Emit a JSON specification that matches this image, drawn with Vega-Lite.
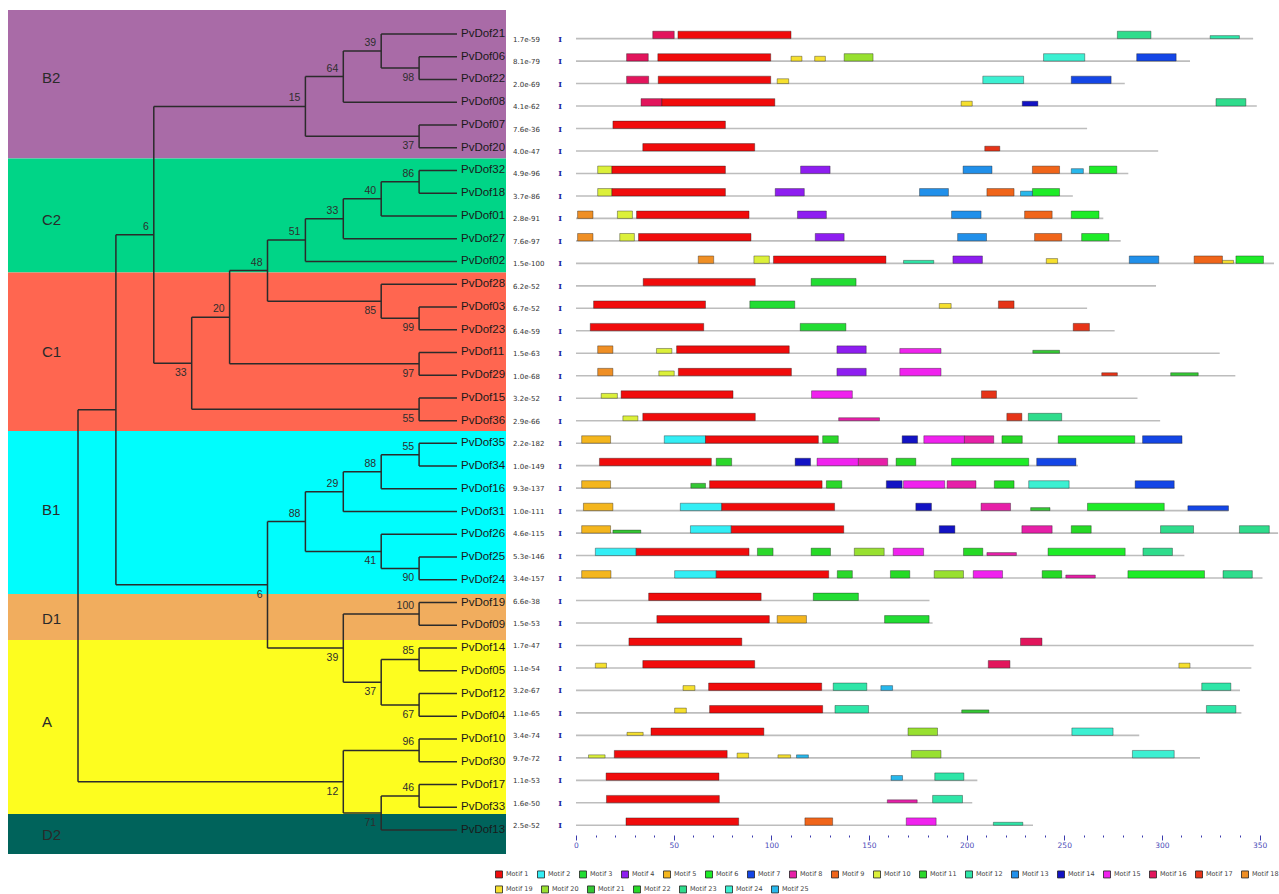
{
  "$schema": "https://vega.github.io/schema/vega-lite/v6.json",
  "background": "white",
  "padding": {"left": 8, "top": 10, "right": 0, "bottom": 0},
  "bounds": "flush",
  "spacing": 2,
  "datasets": {
    "clades": [
      {"clade": "B2", "top": -0.05, "bottom": 6.48, "mid": 2.95},
      {"clade": "C2", "top": 6.48, "bottom": 11.49, "mid": 9.18},
      {"clade": "C1", "top": 11.49, "bottom": 18.46, "mid": 14.97},
      {"clade": "B1", "top": 18.46, "bottom": 25.62, "mid": 21.93},
      {"clade": "D1", "top": 25.62, "bottom": 27.64, "mid": 26.73},
      {"clade": "A", "top": 27.64, "bottom": 35.29, "mid": 31.26},
      {"clade": "D2", "top": 35.29, "bottom": 37.05, "mid": 36.21}
    ],
    "genes": [
      {"gene": "PvDof21", "row": 1, "depth": 10, "parent": 8, "evalue": "1.7e-59", "len": 346.7},
      {"gene": "PvDof06", "row": 2, "depth": 10, "parent": 9, "evalue": "8.1e-79", "len": 314.4},
      {"gene": "PvDof22", "row": 3, "depth": 10, "parent": 9, "evalue": "2.0e-69", "len": 281.0},
      {"gene": "PvDof08", "row": 4, "depth": 10, "parent": 7, "evalue": "4.1e-62", "len": 348.6},
      {"gene": "PvDof07", "row": 5, "depth": 10, "parent": 9, "evalue": "7.6e-36", "len": 261.7},
      {"gene": "PvDof20", "row": 6, "depth": 10, "parent": 9, "evalue": "4.0e-47", "len": 298.1},
      {"gene": "PvDof32", "row": 7, "depth": 10, "parent": 9, "evalue": "4.9e-96", "len": 282.8},
      {"gene": "PvDof18", "row": 8, "depth": 10, "parent": 9, "evalue": "3.7e-86", "len": 254.4},
      {"gene": "PvDof01", "row": 9, "depth": 10, "parent": 8, "evalue": "2.8e-91", "len": 270.0},
      {"gene": "PvDof27", "row": 10, "depth": 10, "parent": 7, "evalue": "7.6e-97", "len": 278.9},
      {"gene": "PvDof02", "row": 11, "depth": 10, "parent": 6, "evalue": "1.5e-100", "len": 357.4},
      {"gene": "PvDof28", "row": 12, "depth": 10, "parent": 8, "evalue": "6.2e-52", "len": 297.0},
      {"gene": "PvDof03", "row": 13, "depth": 10, "parent": 9, "evalue": "6.7e-52", "len": 261.7},
      {"gene": "PvDof23", "row": 14, "depth": 10, "parent": 9, "evalue": "6.4e-59", "len": 275.8},
      {"gene": "PvDof11", "row": 15, "depth": 10, "parent": 9, "evalue": "1.5e-63", "len": 329.6},
      {"gene": "PvDof29", "row": 16, "depth": 10, "parent": 9, "evalue": "1.0e-68", "len": 337.6},
      {"gene": "PvDof15", "row": 17, "depth": 10, "parent": 9, "evalue": "3.2e-52", "len": 287.5},
      {"gene": "PvDof36", "row": 18, "depth": 10, "parent": 9, "evalue": "2.9e-66", "len": 299.1},
      {"gene": "PvDof35", "row": 19, "depth": 10, "parent": 9, "evalue": "2.2e-182", "len": 310.5},
      {"gene": "PvDof34", "row": 20, "depth": 10, "parent": 9, "evalue": "1.0e-149", "len": 257.0},
      {"gene": "PvDof16", "row": 21, "depth": 10, "parent": 8, "evalue": "9.3e-137", "len": 306.5},
      {"gene": "PvDof31", "row": 22, "depth": 10, "parent": 7, "evalue": "1.0e-111", "len": 334.1},
      {"gene": "PvDof26", "row": 23, "depth": 10, "parent": 8, "evalue": "4.6e-115", "len": 359.5},
      {"gene": "PvDof25", "row": 24, "depth": 10, "parent": 9, "evalue": "5.3e-146", "len": 311.5},
      {"gene": "PvDof24", "row": 25, "depth": 10, "parent": 9, "evalue": "3.4e-157", "len": 351.5},
      {"gene": "PvDof19", "row": 26, "depth": 10, "parent": 9, "evalue": "6.6e-38", "len": 181.0},
      {"gene": "PvDof09", "row": 27, "depth": 10, "parent": 9, "evalue": "1.5e-53", "len": 182.6},
      {"gene": "PvDof14", "row": 28, "depth": 10, "parent": 9, "evalue": "1.7e-47", "len": 347.0},
      {"gene": "PvDof05", "row": 29, "depth": 10, "parent": 9, "evalue": "1.1e-54", "len": 345.8},
      {"gene": "PvDof12", "row": 30, "depth": 10, "parent": 9, "evalue": "3.2e-67", "len": 340.0},
      {"gene": "PvDof04", "row": 31, "depth": 10, "parent": 9, "evalue": "1.1e-65", "len": 340.7},
      {"gene": "PvDof10", "row": 32, "depth": 10, "parent": 9, "evalue": "3.4e-74", "len": 288.4},
      {"gene": "PvDof30", "row": 33, "depth": 10, "parent": 9, "evalue": "9.7e-72", "len": 319.5},
      {"gene": "PvDof17", "row": 34, "depth": 10, "parent": 9, "evalue": "1.1e-53", "len": 205.5},
      {"gene": "PvDof33", "row": 35, "depth": 10, "parent": 9, "evalue": "1.6e-50", "len": 202.9},
      {"gene": "PvDof13", "row": 36, "depth": 10, "parent": 8, "evalue": "2.5e-52", "len": 234.0}
    ],
    "nodes": [
      {"node": "n1", "level": 9, "row": 2.5, "parent": 8, "top": 2, "bottom": 3, "support": "98", "side": "below"},
      {"node": "n2", "level": 8, "row": 1.75, "parent": 7, "top": 1, "bottom": 2.5, "support": "39", "side": "above"},
      {"node": "n3", "level": 7, "row": 2.875, "parent": 6, "top": 1.75, "bottom": 4, "support": "64", "side": "above"},
      {"node": "n4", "level": 9, "row": 5.5, "parent": 6, "top": 5, "bottom": 6, "support": "37", "side": "below"},
      {"node": "n5", "level": 6, "row": 4.1875, "parent": 2, "top": 2.875, "bottom": 5.5, "support": "15", "side": "above"},
      {"node": "n7", "level": 9, "row": 7.5, "parent": 8, "top": 7, "bottom": 8, "support": "86", "side": "above"},
      {"node": "n8", "level": 8, "row": 8.25, "parent": 7, "top": 7.5, "bottom": 9, "support": "40", "side": "above"},
      {"node": "n9", "level": 7, "row": 9.125, "parent": 6, "top": 8.25, "bottom": 10, "support": "33", "side": "above"},
      {"node": "n10", "level": 6, "row": 10.0625, "parent": 5, "top": 9.125, "bottom": 11, "support": "51", "side": "above"},
      {"node": "n11", "level": 9, "row": 13.5, "parent": 8, "top": 13, "bottom": 14, "support": "99", "side": "below"},
      {"node": "n12", "level": 8, "row": 12.75, "parent": 5, "top": 12, "bottom": 13.5, "support": "85", "side": "below"},
      {"node": "n13", "level": 5, "row": 11.40625, "parent": 4, "top": 10.0625, "bottom": 12.75, "support": "48", "side": "above"},
      {"node": "n14", "level": 9, "row": 15.5, "parent": 4, "top": 15, "bottom": 16, "support": "97", "side": "below"},
      {"node": "n15", "level": 4, "row": 13.453, "parent": 3, "top": 11.40625, "bottom": 15.5, "support": "20", "side": "above"},
      {"node": "n16", "level": 9, "row": 17.5, "parent": 3, "top": 17, "bottom": 18, "support": "55", "side": "below"},
      {"node": "n18", "level": 3, "row": 15.477, "parent": 2, "top": 13.453, "bottom": 17.5, "support": "33", "side": "below"},
      {"node": "n6", "level": 2, "row": 9.832, "parent": 1, "top": 4.1875, "bottom": 15.477, "support": "6", "side": "above"},
      {"node": "n19", "level": 9, "row": 19.5, "parent": 8, "top": 19, "bottom": 20, "support": "55", "side": "above"},
      {"node": "n20", "level": 8, "row": 20.25, "parent": 7, "top": 19.5, "bottom": 21, "support": "88", "side": "above"},
      {"node": "n21", "level": 7, "row": 21.125, "parent": 6, "top": 20.25, "bottom": 22, "support": "29", "side": "above"},
      {"node": "n22", "level": 9, "row": 24.5, "parent": 8, "top": 24, "bottom": 25, "support": "90", "side": "below"},
      {"node": "n23", "level": 8, "row": 23.75, "parent": 6, "top": 23, "bottom": 24.5, "support": "41", "side": "below"},
      {"node": "n24", "level": 6, "row": 22.4375, "parent": 5, "top": 21.125, "bottom": 23.75, "support": "88", "side": "above"},
      {"node": "n25", "level": 9, "row": 26.5, "parent": 7, "top": 26, "bottom": 27, "support": "100", "side": "above"},
      {"node": "n26", "level": 9, "row": 28.5, "parent": 8, "top": 28, "bottom": 29, "support": "85", "side": "above"},
      {"node": "n27", "level": 9, "row": 30.5, "parent": 8, "top": 30, "bottom": 31, "support": "67", "side": "below"},
      {"node": "n28", "level": 8, "row": 29.5, "parent": 7, "top": 28.5, "bottom": 30.5, "support": "37", "side": "below"},
      {"node": "n29", "level": 7, "row": 28, "parent": 5, "top": 26.5, "bottom": 29.5, "support": "39", "side": "below"},
      {"node": "n30", "level": 5, "row": 25.219, "parent": 1, "top": 22.4375, "bottom": 28, "support": "6", "side": "below"},
      {"node": "n17", "level": 1, "row": 17.525, "parent": 0, "top": 9.832, "bottom": 25.219, "support": "", "side": "none"},
      {"node": "n31", "level": 9, "row": 32.5, "parent": 7, "top": 32, "bottom": 33, "support": "96", "side": "above"},
      {"node": "n32", "level": 9, "row": 34.5, "parent": 8, "top": 34, "bottom": 35, "support": "46", "side": "above"},
      {"node": "n33", "level": 8, "row": 35.25, "parent": 7, "top": 34.5, "bottom": 36, "support": "71", "side": "below"},
      {"node": "n34", "level": 7, "row": 33.875, "parent": 0, "top": 32.5, "bottom": 35.25, "support": "12", "side": "below"},
      {"node": "root", "level": 0, "row": 25.7, "parent": null, "top": 17.525, "bottom": 33.875, "support": "", "side": "none"}
    ],
    "motifs": [
      {"row": 1, "motif": "Motif 16", "start": 39.3, "end": 50.3, "sig": 1},
      {"row": 1, "motif": "Motif 1", "start": 52.2, "end": 110.1, "sig": 1},
      {"row": 1, "motif": "Motif 23", "start": 277.2, "end": 294.4, "sig": 1},
      {"row": 1, "motif": "Motif 12", "start": 324.7, "end": 339.7, "sig": 0.45},
      {"row": 2, "motif": "Motif 16", "start": 25.9, "end": 37.0, "sig": 1},
      {"row": 2, "motif": "Motif 1", "start": 41.9, "end": 99.7, "sig": 1},
      {"row": 2, "motif": "Motif 19", "start": 110.1, "end": 115.7, "sig": 0.75},
      {"row": 2, "motif": "Motif 19", "start": 122.2, "end": 127.7, "sig": 0.6},
      {"row": 2, "motif": "Motif 20", "start": 137.3, "end": 152.1, "sig": 1},
      {"row": 2, "motif": "Motif 24", "start": 239.4, "end": 260.5, "sig": 1},
      {"row": 2, "motif": "Motif 7", "start": 287.1, "end": 307.3, "sig": 1},
      {"row": 3, "motif": "Motif 16", "start": 25.9, "end": 37.2, "sig": 1},
      {"row": 3, "motif": "Motif 1", "start": 42.1, "end": 99.7, "sig": 1},
      {"row": 3, "motif": "Motif 19", "start": 103.0, "end": 108.9, "sig": 0.6},
      {"row": 3, "motif": "Motif 24", "start": 208.3, "end": 229.2, "sig": 1},
      {"row": 3, "motif": "Motif 7", "start": 253.6, "end": 274.0, "sig": 1},
      {"row": 4, "motif": "Motif 16", "start": 33.3, "end": 44.0, "sig": 1},
      {"row": 4, "motif": "Motif 1", "start": 44.0, "end": 101.8, "sig": 1},
      {"row": 4, "motif": "Motif 19", "start": 197.2, "end": 202.9, "sig": 0.6},
      {"row": 4, "motif": "Motif 14", "start": 228.5, "end": 236.5, "sig": 0.6},
      {"row": 4, "motif": "Motif 23", "start": 327.7, "end": 343.0, "sig": 1},
      {"row": 5, "motif": "Motif 1", "start": 18.9, "end": 76.5, "sig": 1},
      {"row": 6, "motif": "Motif 1", "start": 34.2, "end": 91.5, "sig": 1},
      {"row": 6, "motif": "Motif 17", "start": 209.3, "end": 217.0, "sig": 0.6},
      {"row": 7, "motif": "Motif 10", "start": 11.1, "end": 18.4, "sig": 1},
      {"row": 7, "motif": "Motif 1", "start": 18.4, "end": 76.5, "sig": 1},
      {"row": 7, "motif": "Motif 4", "start": 115.0, "end": 130.1, "sig": 1},
      {"row": 7, "motif": "Motif 13", "start": 198.2, "end": 213.0, "sig": 1},
      {"row": 7, "motif": "Motif 9", "start": 233.7, "end": 247.6, "sig": 1},
      {"row": 7, "motif": "Motif 25", "start": 253.6, "end": 259.8, "sig": 0.7},
      {"row": 7, "motif": "Motif 6", "start": 262.9, "end": 276.9, "sig": 1},
      {"row": 8, "motif": "Motif 10", "start": 11.1, "end": 18.4, "sig": 1},
      {"row": 8, "motif": "Motif 1", "start": 18.4, "end": 76.5, "sig": 1},
      {"row": 8, "motif": "Motif 4", "start": 102.0, "end": 116.9, "sig": 1},
      {"row": 8, "motif": "Motif 13", "start": 175.9, "end": 190.7, "sig": 1},
      {"row": 8, "motif": "Motif 9", "start": 210.4, "end": 224.3, "sig": 1},
      {"row": 8, "motif": "Motif 25", "start": 227.6, "end": 233.7, "sig": 0.7},
      {"row": 8, "motif": "Motif 6", "start": 233.7, "end": 247.6, "sig": 1},
      {"row": 9, "motif": "Motif 18", "start": 0.8, "end": 8.7, "sig": 1},
      {"row": 9, "motif": "Motif 10", "start": 21.2, "end": 28.9, "sig": 1},
      {"row": 9, "motif": "Motif 1", "start": 31.0, "end": 88.6, "sig": 1},
      {"row": 9, "motif": "Motif 4", "start": 113.4, "end": 128.2, "sig": 1},
      {"row": 9, "motif": "Motif 13", "start": 192.3, "end": 207.4, "sig": 1},
      {"row": 9, "motif": "Motif 9", "start": 229.7, "end": 243.8, "sig": 1},
      {"row": 9, "motif": "Motif 6", "start": 253.6, "end": 267.8, "sig": 1},
      {"row": 10, "motif": "Motif 18", "start": 0.8, "end": 8.7, "sig": 1},
      {"row": 10, "motif": "Motif 10", "start": 22.4, "end": 29.9, "sig": 1},
      {"row": 10, "motif": "Motif 1", "start": 32.0, "end": 89.6, "sig": 1},
      {"row": 10, "motif": "Motif 4", "start": 122.5, "end": 137.3, "sig": 1},
      {"row": 10, "motif": "Motif 13", "start": 195.4, "end": 210.2, "sig": 1},
      {"row": 10, "motif": "Motif 9", "start": 234.8, "end": 248.7, "sig": 1},
      {"row": 10, "motif": "Motif 6", "start": 258.9, "end": 272.9, "sig": 1},
      {"row": 11, "motif": "Motif 18", "start": 62.6, "end": 70.5, "sig": 0.9},
      {"row": 11, "motif": "Motif 10", "start": 91.1, "end": 99.0, "sig": 1},
      {"row": 11, "motif": "Motif 1", "start": 101.1, "end": 158.7, "sig": 1},
      {"row": 11, "motif": "Motif 12", "start": 167.7, "end": 183.2, "sig": 0.4},
      {"row": 11, "motif": "Motif 4", "start": 193.0, "end": 208.1, "sig": 1},
      {"row": 11, "motif": "Motif 19", "start": 240.8, "end": 246.6, "sig": 0.6},
      {"row": 11, "motif": "Motif 13", "start": 283.3, "end": 298.4, "sig": 1},
      {"row": 11, "motif": "Motif 9", "start": 316.5, "end": 331.0, "sig": 1},
      {"row": 11, "motif": "Motif 19", "start": 331.0, "end": 336.7, "sig": 0.5},
      {"row": 11, "motif": "Motif 6", "start": 337.9, "end": 352.0, "sig": 1},
      {"row": 12, "motif": "Motif 1", "start": 34.4, "end": 91.8, "sig": 1},
      {"row": 12, "motif": "Motif 3", "start": 120.4, "end": 143.4, "sig": 1},
      {"row": 13, "motif": "Motif 1", "start": 9.0, "end": 66.3, "sig": 1},
      {"row": 13, "motif": "Motif 3", "start": 89.0, "end": 112.0, "sig": 1},
      {"row": 13, "motif": "Motif 19", "start": 186.0, "end": 192.1, "sig": 0.55},
      {"row": 13, "motif": "Motif 17", "start": 216.3, "end": 224.3, "sig": 0.85},
      {"row": 14, "motif": "Motif 1", "start": 7.3, "end": 65.4, "sig": 1},
      {"row": 14, "motif": "Motif 3", "start": 114.8, "end": 138.2, "sig": 1},
      {"row": 14, "motif": "Motif 17", "start": 254.6, "end": 262.9, "sig": 0.9},
      {"row": 15, "motif": "Motif 18", "start": 11.1, "end": 18.9, "sig": 0.9},
      {"row": 15, "motif": "Motif 10", "start": 41.2, "end": 49.1, "sig": 0.65},
      {"row": 15, "motif": "Motif 1", "start": 51.5, "end": 109.2, "sig": 1},
      {"row": 15, "motif": "Motif 4", "start": 133.6, "end": 148.6, "sig": 1},
      {"row": 15, "motif": "Motif 15", "start": 165.8, "end": 186.9, "sig": 0.55},
      {"row": 15, "motif": "Motif 21", "start": 233.9, "end": 247.6, "sig": 0.45},
      {"row": 16, "motif": "Motif 18", "start": 11.1, "end": 18.9, "sig": 0.9},
      {"row": 16, "motif": "Motif 10", "start": 42.4, "end": 50.3, "sig": 0.75},
      {"row": 16, "motif": "Motif 1", "start": 52.4, "end": 110.3, "sig": 1},
      {"row": 16, "motif": "Motif 4", "start": 133.6, "end": 148.6, "sig": 1},
      {"row": 16, "motif": "Motif 15", "start": 165.8, "end": 186.9, "sig": 1},
      {"row": 16, "motif": "Motif 17", "start": 269.2, "end": 277.2, "sig": 0.45},
      {"row": 16, "motif": "Motif 21", "start": 304.5, "end": 318.6, "sig": 0.45},
      {"row": 17, "motif": "Motif 10", "start": 12.9, "end": 21.2, "sig": 0.7},
      {"row": 17, "motif": "Motif 1", "start": 23.1, "end": 80.4, "sig": 1},
      {"row": 17, "motif": "Motif 15", "start": 120.6, "end": 141.5, "sig": 1},
      {"row": 17, "motif": "Motif 17", "start": 207.6, "end": 215.3, "sig": 0.8},
      {"row": 18, "motif": "Motif 10", "start": 24.0, "end": 31.7, "sig": 0.75},
      {"row": 18, "motif": "Motif 1", "start": 34.2, "end": 91.8, "sig": 1},
      {"row": 18, "motif": "Motif 8", "start": 134.5, "end": 155.4, "sig": 0.5},
      {"row": 18, "motif": "Motif 17", "start": 220.6, "end": 228.3, "sig": 1},
      {"row": 18, "motif": "Motif 23", "start": 231.6, "end": 248.7, "sig": 1},
      {"row": 19, "motif": "Motif 5", "start": 2.9, "end": 17.7, "sig": 1},
      {"row": 19, "motif": "Motif 2", "start": 45.2, "end": 66.3, "sig": 1},
      {"row": 19, "motif": "Motif 1", "start": 66.3, "end": 124.1, "sig": 1},
      {"row": 19, "motif": "Motif 11", "start": 126.3, "end": 134.3, "sig": 0.9},
      {"row": 19, "motif": "Motif 14", "start": 167.0, "end": 174.9, "sig": 1},
      {"row": 19, "motif": "Motif 15", "start": 178.1, "end": 198.9, "sig": 1},
      {"row": 19, "motif": "Motif 8", "start": 198.9, "end": 213.9, "sig": 1},
      {"row": 19, "motif": "Motif 22", "start": 218.1, "end": 228.5, "sig": 1},
      {"row": 19, "motif": "Motif 6", "start": 246.9, "end": 286.1, "sig": 1},
      {"row": 19, "motif": "Motif 7", "start": 290.1, "end": 310.3, "sig": 1},
      {"row": 20, "motif": "Motif 1", "start": 12.0, "end": 69.3, "sig": 1},
      {"row": 20, "motif": "Motif 11", "start": 71.8, "end": 79.7, "sig": 1},
      {"row": 20, "motif": "Motif 14", "start": 112.2, "end": 120.1, "sig": 1},
      {"row": 20, "motif": "Motif 15", "start": 123.4, "end": 144.6, "sig": 1},
      {"row": 20, "motif": "Motif 8", "start": 144.6, "end": 159.6, "sig": 1},
      {"row": 20, "motif": "Motif 22", "start": 163.9, "end": 174.0, "sig": 1},
      {"row": 20, "motif": "Motif 6", "start": 192.3, "end": 231.8, "sig": 1},
      {"row": 20, "motif": "Motif 7", "start": 235.9, "end": 256.0, "sig": 1},
      {"row": 21, "motif": "Motif 5", "start": 2.9, "end": 17.7, "sig": 1},
      {"row": 21, "motif": "Motif 21", "start": 58.8, "end": 66.3, "sig": 0.7},
      {"row": 21, "motif": "Motif 1", "start": 68.4, "end": 126.0, "sig": 1},
      {"row": 21, "motif": "Motif 11", "start": 128.2, "end": 136.1, "sig": 1},
      {"row": 21, "motif": "Motif 14", "start": 158.9, "end": 167.0, "sig": 1},
      {"row": 21, "motif": "Motif 15", "start": 167.7, "end": 188.8, "sig": 1},
      {"row": 21, "motif": "Motif 8", "start": 190.0, "end": 204.8, "sig": 1},
      {"row": 21, "motif": "Motif 22", "start": 214.2, "end": 224.3, "sig": 1},
      {"row": 21, "motif": "Motif 24", "start": 231.8, "end": 252.5, "sig": 1},
      {"row": 21, "motif": "Motif 7", "start": 286.3, "end": 306.3, "sig": 1},
      {"row": 22, "motif": "Motif 5", "start": 3.8, "end": 18.9, "sig": 1},
      {"row": 22, "motif": "Motif 2", "start": 53.4, "end": 74.6, "sig": 1},
      {"row": 22, "motif": "Motif 1", "start": 74.6, "end": 132.4, "sig": 1},
      {"row": 22, "motif": "Motif 14", "start": 174.0, "end": 182.0, "sig": 1},
      {"row": 22, "motif": "Motif 8", "start": 207.4, "end": 222.5, "sig": 1},
      {"row": 22, "motif": "Motif 21", "start": 232.8, "end": 242.7, "sig": 0.4},
      {"row": 22, "motif": "Motif 6", "start": 261.9, "end": 301.2, "sig": 1},
      {"row": 22, "motif": "Motif 7", "start": 313.3, "end": 334.1, "sig": 0.6},
      {"row": 23, "motif": "Motif 5", "start": 2.9, "end": 17.7, "sig": 1},
      {"row": 23, "motif": "Motif 21", "start": 18.9, "end": 33.2, "sig": 0.45},
      {"row": 23, "motif": "Motif 2", "start": 58.6, "end": 79.5, "sig": 1},
      {"row": 23, "motif": "Motif 1", "start": 79.5, "end": 137.1, "sig": 1},
      {"row": 23, "motif": "Motif 14", "start": 186.0, "end": 194.0, "sig": 1},
      {"row": 23, "motif": "Motif 8", "start": 228.3, "end": 243.8, "sig": 1},
      {"row": 23, "motif": "Motif 22", "start": 253.6, "end": 263.8, "sig": 1},
      {"row": 23, "motif": "Motif 23", "start": 299.3, "end": 316.2, "sig": 1},
      {"row": 23, "motif": "Motif 23", "start": 339.7, "end": 355.0, "sig": 1},
      {"row": 24, "motif": "Motif 2", "start": 9.9, "end": 30.8, "sig": 1},
      {"row": 24, "motif": "Motif 1", "start": 30.8, "end": 88.6, "sig": 1},
      {"row": 24, "motif": "Motif 11", "start": 92.9, "end": 100.9, "sig": 1},
      {"row": 24, "motif": "Motif 22", "start": 120.4, "end": 130.3, "sig": 1},
      {"row": 24, "motif": "Motif 20", "start": 142.5, "end": 157.8, "sig": 1},
      {"row": 24, "motif": "Motif 15", "start": 162.4, "end": 178.0, "sig": 1},
      {"row": 24, "motif": "Motif 22", "start": 198.4, "end": 208.3, "sig": 1},
      {"row": 24, "motif": "Motif 8", "start": 210.4, "end": 225.5, "sig": 0.35},
      {"row": 24, "motif": "Motif 6", "start": 241.7, "end": 281.2, "sig": 1},
      {"row": 24, "motif": "Motif 23", "start": 290.3, "end": 305.4, "sig": 1},
      {"row": 25, "motif": "Motif 5", "start": 2.9, "end": 17.9, "sig": 1},
      {"row": 25, "motif": "Motif 2", "start": 50.5, "end": 71.8, "sig": 1},
      {"row": 25, "motif": "Motif 1", "start": 71.8, "end": 129.4, "sig": 1},
      {"row": 25, "motif": "Motif 11", "start": 133.8, "end": 141.5, "sig": 1},
      {"row": 25, "motif": "Motif 22", "start": 161.0, "end": 170.9, "sig": 1},
      {"row": 25, "motif": "Motif 20", "start": 183.4, "end": 198.4, "sig": 1},
      {"row": 25, "motif": "Motif 15", "start": 203.4, "end": 218.4, "sig": 1},
      {"row": 25, "motif": "Motif 22", "start": 238.7, "end": 248.7, "sig": 1},
      {"row": 25, "motif": "Motif 8", "start": 250.8, "end": 265.9, "sig": 0.35},
      {"row": 25, "motif": "Motif 6", "start": 282.6, "end": 321.8, "sig": 1},
      {"row": 25, "motif": "Motif 23", "start": 331.3, "end": 346.3, "sig": 1},
      {"row": 26, "motif": "Motif 1", "start": 37.2, "end": 94.8, "sig": 1},
      {"row": 26, "motif": "Motif 3", "start": 121.5, "end": 144.6, "sig": 1},
      {"row": 27, "motif": "Motif 1", "start": 41.4, "end": 99.0, "sig": 1},
      {"row": 27, "motif": "Motif 5", "start": 103.0, "end": 118.0, "sig": 1},
      {"row": 27, "motif": "Motif 3", "start": 158.0, "end": 180.8, "sig": 1},
      {"row": 28, "motif": "Motif 1", "start": 27.1, "end": 84.9, "sig": 1},
      {"row": 28, "motif": "Motif 16", "start": 227.6, "end": 238.6, "sig": 1},
      {"row": 29, "motif": "Motif 19", "start": 9.9, "end": 15.6, "sig": 0.6},
      {"row": 29, "motif": "Motif 1", "start": 34.2, "end": 91.5, "sig": 1},
      {"row": 29, "motif": "Motif 16", "start": 211.1, "end": 222.2, "sig": 1},
      {"row": 29, "motif": "Motif 19", "start": 308.7, "end": 314.4, "sig": 0.6},
      {"row": 30, "motif": "Motif 19", "start": 54.8, "end": 60.9, "sig": 0.75},
      {"row": 30, "motif": "Motif 1", "start": 67.9, "end": 125.8, "sig": 1},
      {"row": 30, "motif": "Motif 12", "start": 131.7, "end": 148.9, "sig": 1},
      {"row": 30, "motif": "Motif 25", "start": 156.1, "end": 162.1, "sig": 0.65},
      {"row": 30, "motif": "Motif 12", "start": 320.4, "end": 335.3, "sig": 1},
      {"row": 31, "motif": "Motif 19", "start": 50.5, "end": 56.5, "sig": 0.6},
      {"row": 31, "motif": "Motif 1", "start": 68.4, "end": 126.3, "sig": 1},
      {"row": 31, "motif": "Motif 12", "start": 132.6, "end": 149.8, "sig": 1},
      {"row": 31, "motif": "Motif 21", "start": 197.5, "end": 211.4, "sig": 0.45},
      {"row": 31, "motif": "Motif 12", "start": 322.8, "end": 337.9, "sig": 1},
      {"row": 32, "motif": "Motif 19", "start": 26.1, "end": 34.4, "sig": 0.45},
      {"row": 32, "motif": "Motif 1", "start": 38.4, "end": 96.2, "sig": 1},
      {"row": 32, "motif": "Motif 20", "start": 170.0, "end": 185.1, "sig": 1},
      {"row": 32, "motif": "Motif 24", "start": 253.9, "end": 275.0, "sig": 1},
      {"row": 33, "motif": "Motif 10", "start": 6.4, "end": 14.9, "sig": 0.4},
      {"row": 33, "motif": "Motif 1", "start": 19.6, "end": 77.4, "sig": 1},
      {"row": 33, "motif": "Motif 19", "start": 82.5, "end": 88.4, "sig": 0.6},
      {"row": 33, "motif": "Motif 19", "start": 103.4, "end": 109.9, "sig": 0.4},
      {"row": 33, "motif": "Motif 25", "start": 112.9, "end": 119.0, "sig": 0.5},
      {"row": 33, "motif": "Motif 20", "start": 171.7, "end": 186.9, "sig": 1},
      {"row": 33, "motif": "Motif 24", "start": 284.9, "end": 306.3, "sig": 1},
      {"row": 34, "motif": "Motif 1", "start": 15.4, "end": 73.2, "sig": 1},
      {"row": 34, "motif": "Motif 25", "start": 161.3, "end": 167.2, "sig": 0.55},
      {"row": 34, "motif": "Motif 12", "start": 183.7, "end": 198.6, "sig": 1},
      {"row": 35, "motif": "Motif 1", "start": 15.6, "end": 73.4, "sig": 1},
      {"row": 35, "motif": "Motif 8", "start": 159.4, "end": 174.7, "sig": 0.35},
      {"row": 35, "motif": "Motif 12", "start": 182.6, "end": 197.9, "sig": 1},
      {"row": 36, "motif": "Motif 1", "start": 25.6, "end": 83.3, "sig": 1},
      {"row": 36, "motif": "Motif 9", "start": 117.2, "end": 131.4, "sig": 1},
      {"row": 36, "motif": "Motif 15", "start": 169.1, "end": 184.4, "sig": 1},
      {"row": 36, "motif": "Motif 12", "start": 213.7, "end": 228.8, "sig": 0.45}
    ]
  },
  "hconcat": [
    {
      "width": 498,
      "height": 844,
      "layer": [
        {
          "data": {"name": "clades"},
          "mark": {"type": "rect"},
          "encoding": {
            "x": {"value": 0},
            "x2": {"value": "width"},
            "y": {"field": "top", "type": "quantitative", "scale": {"domain": [-0.05, 37.05], "reverse": true, "nice": false, "zero": false}, "axis": null},
            "y2": {"field": "bottom"},
            "color": {"field": "clade", "type": "nominal", "legend": null,
              "scale": {"domain": ["B2", "C2", "C1", "B1", "D1", "A", "D2"], "range": ["#a96ba7", "#00d587", "#ff6650", "#00fdfd", "#f1ad5e", "#fdfd1f", "#00635b"]}}
          }
        },
        {
          "data": {"name": "clades"},
          "mark": {"type": "text", "align": "left", "baseline": "middle", "font": "Liberation Sans", "fontSize": 15, "fill": "#2a2a2a"},
          "encoding": {
            "x": {"datum": -0.95, "type": "quantitative", "scale": {"domain": [-1.847, 11.293], "nice": false, "zero": false}, "axis": null},
            "y": {"field": "mid", "type": "quantitative", "axis": null},
            "text": {"field": "clade"}
          }
        },
        {
          "data": {"name": "nodes"},
          "mark": {"type": "rule", "stroke": "#2b2b2b", "strokeWidth": 1.5},
          "encoding": {
            "x": {"field": "level", "type": "quantitative", "axis": null},
            "y": {"field": "top", "type": "quantitative", "axis": null},
            "y2": {"field": "bottom"}
          }
        },
        {
          "data": {"name": "nodes"},
          "transform": [{"filter": "datum.parent != null"}],
          "mark": {"type": "rule", "stroke": "#2b2b2b", "strokeWidth": 1.5},
          "encoding": {
            "x": {"field": "parent", "type": "quantitative", "axis": null},
            "x2": {"field": "level"},
            "y": {"field": "row", "type": "quantitative", "axis": null}
          }
        },
        {
          "data": {"name": "genes"},
          "mark": {"type": "rule", "stroke": "#2b2b2b", "strokeWidth": 1.5},
          "encoding": {
            "x": {"field": "parent", "type": "quantitative", "axis": null},
            "x2": {"field": "depth"},
            "y": {"field": "row", "type": "quantitative", "axis": null}
          }
        },
        {
          "data": {"name": "nodes"},
          "transform": [{"filter": "datum.side === 'above'"}],
          "mark": {"type": "text", "align": "right", "baseline": "middle", "dx": -5, "dy": -8, "font": "Liberation Sans", "fontSize": 10.5, "fill": "#2e2e2e"},
          "encoding": {
            "x": {"field": "level", "type": "quantitative", "axis": null},
            "y": {"field": "row", "type": "quantitative", "axis": null},
            "text": {"field": "support"}
          }
        },
        {
          "data": {"name": "nodes"},
          "transform": [{"filter": "datum.side === 'below'"}],
          "mark": {"type": "text", "align": "right", "baseline": "middle", "dx": -5, "dy": 10, "font": "Liberation Sans", "fontSize": 10.5, "fill": "#2e2e2e"},
          "encoding": {
            "x": {"field": "level", "type": "quantitative", "axis": null},
            "y": {"field": "row", "type": "quantitative", "axis": null},
            "text": {"field": "support"}
          }
        },
        {
          "data": {"name": "genes"},
          "mark": {"type": "text", "align": "left", "baseline": "middle", "dx": 4, "font": "Liberation Sans", "fontSize": 11.5, "fill": "#1a1a1a"},
          "encoding": {
            "x": {"field": "depth", "type": "quantitative", "axis": null},
            "y": {"field": "row", "type": "quantitative", "axis": null},
            "text": {"field": "gene"}
          }
        }
      ]
    },
    {
      "width": 771,
      "height": 825,
      "resolve": {"scale": {"fill": "independent"}},
      "layer": [
        {
          "data": {"name": "genes"},
          "mark": {"type": "bar", "orient": "horizontal", "size": 1.6, "color": "#bdbdbd"},
          "encoding": {
            "x": {"field": "len", "type": "quantitative", "stack": null,
              "scale": {"domain": [-34.82, 359.96], "nice": false, "zero": false},
              "axis": {"title": null, "orient": "bottom", "domain": false, "grid": false,
                "values": [0, 10, 20, 30, 40, 50, 60, 70, 80, 90, 100, 110, 120, 130, 140, 150, 160, 170, 180, 190, 200, 210, 220, 230, 240, 250, 260, 270, 280, 290, 300, 310, 320, 330, 340, 350],
                "labelExpr": "datum.value % 50 === 0 ? datum.label : ''",
                "tickSize": {"condition": {"test": "datum.value % 50 === 0", "value": 5}, "value": 2},
                "tickColor": "#3a3aae", "tickWidth": 1, "labelColor": "#4a4ab8", "labelFont": "DejaVu Sans", "labelFontSize": 7.5,
                "labelPadding": 1, "labelOverlap": false, "labelFlush": false}},
            "y": {"field": "row", "type": "quantitative", "scale": {"domain": [-0.05, 36.21], "reverse": true, "nice": false, "zero": false}, "axis": null}
          }
        },
        {
          "data": {"name": "genes"},
          "mark": {"type": "text", "align": "left", "baseline": "middle", "dx": -63, "dy": 1, "font": "DejaVu Sans", "fontSize": 7, "fill": "#333333"},
          "encoding": {
            "x": {"datum": 0, "type": "quantitative",
              "axis": {"title": null, "orient": "bottom", "domain": false, "grid": false,
                "values": [0, 10, 20, 30, 40, 50, 60, 70, 80, 90, 100, 110, 120, 130, 140, 150, 160, 170, 180, 190, 200, 210, 220, 230, 240, 250, 260, 270, 280, 290, 300, 310, 320, 330, 340, 350],
                "labelExpr": "datum.value % 50 === 0 ? datum.label : ''",
                "tickSize": {"condition": {"test": "datum.value % 50 === 0", "value": 5}, "value": 2},
                "tickColor": "#3a3aae", "tickWidth": 1, "labelColor": "#4a4ab8", "labelFont": "DejaVu Sans", "labelFontSize": 7.5,
                "labelPadding": 1, "labelOverlap": false, "labelFlush": false}},
            "y": {"field": "row", "type": "quantitative", "axis": null},
            "text": {"field": "evalue"}
          }
        },
        {
          "data": {"name": "genes"},
          "mark": {"type": "text", "text": "I", "align": "center", "baseline": "middle", "dx": -16, "dy": 1, "font": "DejaVu Serif", "fontWeight": "bold", "fontSize": 8, "fill": "#2424a0"},
          "encoding": {
            "x": {"datum": 0, "type": "quantitative",
              "axis": {"title": null, "orient": "bottom", "domain": false, "grid": false,
                "values": [0, 10, 20, 30, 40, 50, 60, 70, 80, 90, 100, 110, 120, 130, 140, 150, 160, 170, 180, 190, 200, 210, 220, 230, 240, 250, 260, 270, 280, 290, 300, 310, 320, 330, 340, 350],
                "labelExpr": "datum.value % 50 === 0 ? datum.label : ''",
                "tickSize": {"condition": {"test": "datum.value % 50 === 0", "value": 5}, "value": 2},
                "tickColor": "#3a3aae", "tickWidth": 1, "labelColor": "#4a4ab8", "labelFont": "DejaVu Sans", "labelFontSize": 7.5,
                "labelPadding": 1, "labelOverlap": false, "labelFlush": false}},
            "y": {"field": "row", "type": "quantitative", "axis": null}
          }
        },
        {
          "data": {"name": "motifs"},
          "transform": [{"filter": {"field": "motif", "oneOf": ["Motif 1", "Motif 2", "Motif 3", "Motif 4", "Motif 5", "Motif 6", "Motif 7", "Motif 8", "Motif 9", "Motif 10", "Motif 11", "Motif 12", "Motif 13", "Motif 14", "Motif 15", "Motif 16", "Motif 17", "Motif 18"]}}],
          "encoding": {
            "x": {"field": "start", "type": "quantitative",
              "axis": {"title": null, "orient": "bottom", "domain": false, "grid": false,
                "values": [0, 10, 20, 30, 40, 50, 60, 70, 80, 90, 100, 110, 120, 130, 140, 150, 160, 170, 180, 190, 200, 210, 220, 230, 240, 250, 260, 270, 280, 290, 300, 310, 320, 330, 340, 350],
                "labelExpr": "datum.value % 50 === 0 ? datum.label : ''",
                "tickSize": {"condition": {"test": "datum.value % 50 === 0", "value": 5}, "value": 2},
                "tickColor": "#3a3aae", "tickWidth": 1, "labelColor": "#4a4ab8", "labelFont": "DejaVu Sans", "labelFontSize": 7.5,
                "labelPadding": 1, "labelOverlap": false, "labelFlush": false}},
            "x2": {"field": "end"},
            "y": {"field": "row", "type": "quantitative", "axis": null},
            "y2": {"field": "row"},
            "fill": {"field": "motif", "type": "nominal",
              "scale": {"domain": ["Motif 1", "Motif 2", "Motif 3", "Motif 4", "Motif 5", "Motif 6", "Motif 7", "Motif 8", "Motif 9", "Motif 10", "Motif 11", "Motif 12", "Motif 13", "Motif 14", "Motif 15", "Motif 16", "Motif 17", "Motif 18"],
                "range": ["#f00c0c", "#33eef5", "#22dd33", "#8e1ef0", "#f4b61e", "#1eec28", "#1446e6", "#e620a8", "#f0651a", "#dcf03a", "#2bd82b", "#2fe6a8", "#2190ea", "#1313c4", "#f022ee", "#e2155c", "#e63418", "#ef8f25"]},
              "legend": {"title": null, "orient": "bottom", "direction": "horizontal", "columns": 18, "offset": 21}}
          },
          "layer": [
            {"transform": [{"filter": "datum.sig >= 0.8"}], "mark": {"type": "rect", "y2Offset": -7.4, "stroke": "#1a1a1a", "strokeWidth": 0.7, "strokeOpacity": 0.55}},
            {"transform": [{"filter": "datum.sig >= 0.55 && datum.sig < 0.8"}], "mark": {"type": "rect", "y2Offset": -4.8, "stroke": "#1a1a1a", "strokeWidth": 0.7, "strokeOpacity": 0.55}},
            {"transform": [{"filter": "datum.sig < 0.55"}], "mark": {"type": "rect", "y2Offset": -3.0, "stroke": "#1a1a1a", "strokeWidth": 0.7, "strokeOpacity": 0.55}}
          ]
        },
        {
          "data": {"name": "motifs"},
          "transform": [{"filter": {"field": "motif", "oneOf": ["Motif 19", "Motif 20", "Motif 21", "Motif 22", "Motif 23", "Motif 24", "Motif 25"]}}],
          "encoding": {
            "x": {"field": "start", "type": "quantitative",
              "axis": {"title": null, "orient": "bottom", "domain": false, "grid": false,
                "values": [0, 10, 20, 30, 40, 50, 60, 70, 80, 90, 100, 110, 120, 130, 140, 150, 160, 170, 180, 190, 200, 210, 220, 230, 240, 250, 260, 270, 280, 290, 300, 310, 320, 330, 340, 350],
                "labelExpr": "datum.value % 50 === 0 ? datum.label : ''",
                "tickSize": {"condition": {"test": "datum.value % 50 === 0", "value": 5}, "value": 2},
                "tickColor": "#3a3aae", "tickWidth": 1, "labelColor": "#4a4ab8", "labelFont": "DejaVu Sans", "labelFontSize": 7.5,
                "labelPadding": 1, "labelOverlap": false, "labelFlush": false}},
            "x2": {"field": "end"},
            "y": {"field": "row", "type": "quantitative", "axis": null},
            "y2": {"field": "row"},
            "fill": {"field": "motif", "type": "nominal",
              "scale": {"domain": ["Motif 19", "Motif 20", "Motif 21", "Motif 22", "Motif 23", "Motif 24", "Motif 25"],
                "range": ["#f6e02e", "#98e030", "#35c835", "#26da26", "#2fdc8c", "#3cf0d2", "#28b8ec"]},
              "legend": {"title": null, "orient": "bottom", "direction": "horizontal", "columns": 7, "offset": 21}}
          },
          "layer": [
            {"transform": [{"filter": "datum.sig >= 0.8"}], "mark": {"type": "rect", "y2Offset": -7.4, "stroke": "#1a1a1a", "strokeWidth": 0.7, "strokeOpacity": 0.55}},
            {"transform": [{"filter": "datum.sig >= 0.55 && datum.sig < 0.8"}], "mark": {"type": "rect", "y2Offset": -4.8, "stroke": "#1a1a1a", "strokeWidth": 0.7, "strokeOpacity": 0.55}},
            {"transform": [{"filter": "datum.sig < 0.55"}], "mark": {"type": "rect", "y2Offset": -3.0, "stroke": "#1a1a1a", "strokeWidth": 0.7, "strokeOpacity": 0.55}}
          ]
        }
      ]
    }
  ],
  "config": {
    "view": {"stroke": null},
    "legend": {
      "symbolType": "square",
      "symbolSize": 49,
      "symbolStrokeColor": "#222222",
      "symbolStrokeWidth": 0.8,
      "labelFont": "DejaVu Sans",
      "labelFontSize": 6.5,
      "labelColor": "#444444",
      "labelOffset": 3,
      "columnPadding": 6,
      "rowPadding": 0,
      "padding": 0,
      "layout": {"bottom": {"anchor": "end", "direction": "vertical", "margin": 5, "offset": 21}}
    }
  }
}
